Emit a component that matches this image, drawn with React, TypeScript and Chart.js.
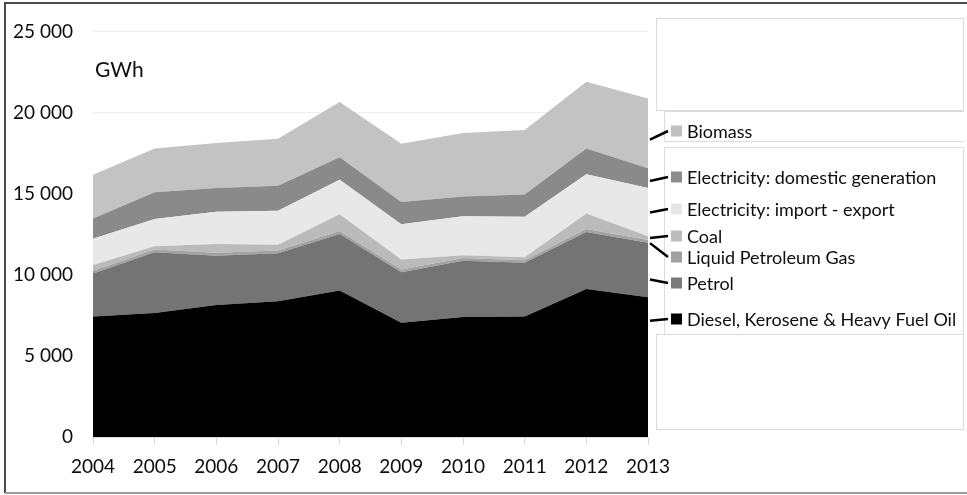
import React, { useEffect, useRef } from "react";
import { Chart, registerables } from "chart.js";
Chart.register(...registerables);

const years = ["2004", "2005", "2006", "2007", "2008", "2009", "2010", "2011", "2012", "2013"];
const diesel = [7420, 7650, 8130, 8370, 9030, 7040, 7400, 7420, 9120, 8620];
const petrol = [2660, 3730, 3040, 2960, 3480, 3120, 3470, 3320, 3520, 3360];
const lpg = [160, 170, 180, 170, 190, 160, 170, 160, 180, 170];
const coal = [360, 200, 550, 350, 1030, 620, 160, 180, 950, 230];
const elecImport = [1620, 1680, 1980, 2090, 2130, 2170, 2410, 2490, 2430, 2970];
const elecDomestic = [1250, 1660, 1470, 1550, 1390, 1370, 1210, 1380, 1580, 1220];
const biomass = [2690, 2690, 2770, 2900, 3400, 3600, 3910, 3980, 4120, 4290];
const yTicks = [0, 5000, 10000, 15000, 20000, 25000];

const seriesNames = [
  "Diesel, Kerosene & Heavy Fuel Oil",
  "Petrol",
  "Liquid Petroleum Gas",
  "Coal",
  "Electricity: import - export",
  "Electricity: domestic generation",
  "Biomass",
];
const seriesValues = [diesel, petrol, lpg, coal, elecImport, elecDomestic, biomass];
const areaColors = ["#000000", "#747474", "#a3a3a3", "#bbbbbb", "#e8e8e8", "#8a8a8a", "#c3c3c3"];
const swatchColors = ["#000000", "#7a7a7a", "#a0a0a0", "#bcbcbc", "#e6e6e6", "#8c8c8c", "#c0c0c0"];
// GWh level where each leader line starts at the plot's right edge
const leaderAnchors = [7160, 9710, 11950, 12260, 13835, 15780, 18325];

const FONT = "Lato, 'Open Sans', sans-serif";
const TEXT = "#0d0d0d";

const fmt = (v: number) => {
  const s = Math.round(v).toString();
  return s.replace(/\B(?=(\d{3})+(?!\d))/g, " ");
};

// legend entry vertical centres (layout), in series order
const legendRowY = [319, 283, 257, 236, 209, 177, 131];

const decorPlugin = {
  id: "decor",
  afterDraw(chart: any) {
    const { ctx, chartArea, scales } = chart;
    const y = scales.y;
    ctx.save();
    // outer frame: top, left, bottom
    ctx.lineWidth = 2;
    ctx.strokeStyle = "#4a4a4a";
    ctx.beginPath();
    ctx.moveTo(967, 3);
    ctx.lineTo(5, 3);
    ctx.lineTo(5, 493);
    ctx.stroke();
    ctx.strokeStyle = "#9a9a9a";
    ctx.beginPath();
    ctx.moveTo(5, 493);
    ctx.lineTo(967, 493);
    ctx.stroke();
    // legend boxes
    ctx.strokeStyle = "#dcdcdc";
    ctx.lineWidth = 1;
    ctx.strokeRect(656.5, 18.5, 307, 92);
    ctx.strokeRect(664.5, 147.5, 299, 187);
    ctx.strokeRect(656.5, 334.5, 307, 95);
    ctx.beginPath();
    ctx.moveTo(664.5, 111.5);
    ctx.lineTo(963.5, 111.5);
    ctx.moveTo(664.5, 111.5);
    ctx.lineTo(664.5, 141.5);
    ctx.lineTo(963.5, 141.5);
    ctx.stroke();
    // GWh unit
    ctx.fillStyle = TEXT;
    ctx.font = `21px ${FONT}`;
    ctx.textBaseline = "middle";
    ctx.textAlign = "left";
    ctx.fillText("GWh", chartArea.left + 2, 70);
    // legend entries with leader lines
    const sqX = 671;
    const sq = 11;
    ctx.font = `18px ${FONT}`;
    seriesNames.forEach((name, i) => {
      const ry = legendRowY[i];
      const ay = y.getPixelForValue(leaderAnchors[i]);
      ctx.strokeStyle = "#000";
      ctx.lineWidth = 2.5;
      ctx.beginPath();
      ctx.moveTo(chartArea.right + 2, ay);
      ctx.lineTo(sqX - 3, ry);
      ctx.stroke();
      ctx.fillStyle = swatchColors[i];
      ctx.fillRect(sqX, ry - sq / 2, sq, sq);
      ctx.fillStyle = TEXT;
      ctx.fillText(name, 687, ry + 1);
    });
    ctx.restore();
  },
};

export default function App() {
  const ref = useRef<HTMLCanvasElement | null>(null);
  useEffect(() => {
    if (!ref.current) return;
    const chart = new Chart(ref.current, {
      type: "line",
      data: {
        labels: years,
        datasets: seriesValues.map((vals, i) => ({
          label: seriesNames[i],
          data: vals,
          backgroundColor: areaColors[i],
          borderColor: areaColors[i],
          borderWidth: 0,
          pointRadius: 0,
          fill: i === 0 ? "origin" : "-1",
          tension: 0,
        })),
      },
      options: {
        responsive: false,
        animation: false,
        layout: { padding: { left: 0, right: 319, top: 25, bottom: 0 } },
        plugins: { legend: { display: false }, tooltip: { enabled: false } },
        scales: {
          x: {
            offset: false,
            grid: { drawOnChartArea: false, color: "#d9d9d9", tickLength: 8 },
            border: { color: "#d9d9d9" },
            ticks: { color: TEXT, font: { family: FONT, size: 19 }, padding: 10, maxRotation: 0 },
            afterFit: (s: any) => { s.height = 58; },
          },
          y: {
            stacked: true,
            min: 0,
            max: 25000,
            afterBuildTicks: (s: any) => { s.ticks = yTicks.map((v) => ({ value: v })); },
            grid: { color: "#eeeeee", drawTicks: false },
            border: { display: false },
            ticks: { color: TEXT, font: { family: FONT, size: 19 }, padding: 20, callback: (v: any) => fmt(Number(v)) },
            afterFit: (s: any) => { s.width = 93; },
          },
        },
      },
      plugins: [decorPlugin],
    });
    return () => chart.destroy();
  }, []);
  return (
    <div style={{ position: "absolute", left: 0, top: 0, width: 967, height: 495, background: "#fff" }}>
      <canvas ref={ref} width={967} height={495} />
    </div>
  );
}
